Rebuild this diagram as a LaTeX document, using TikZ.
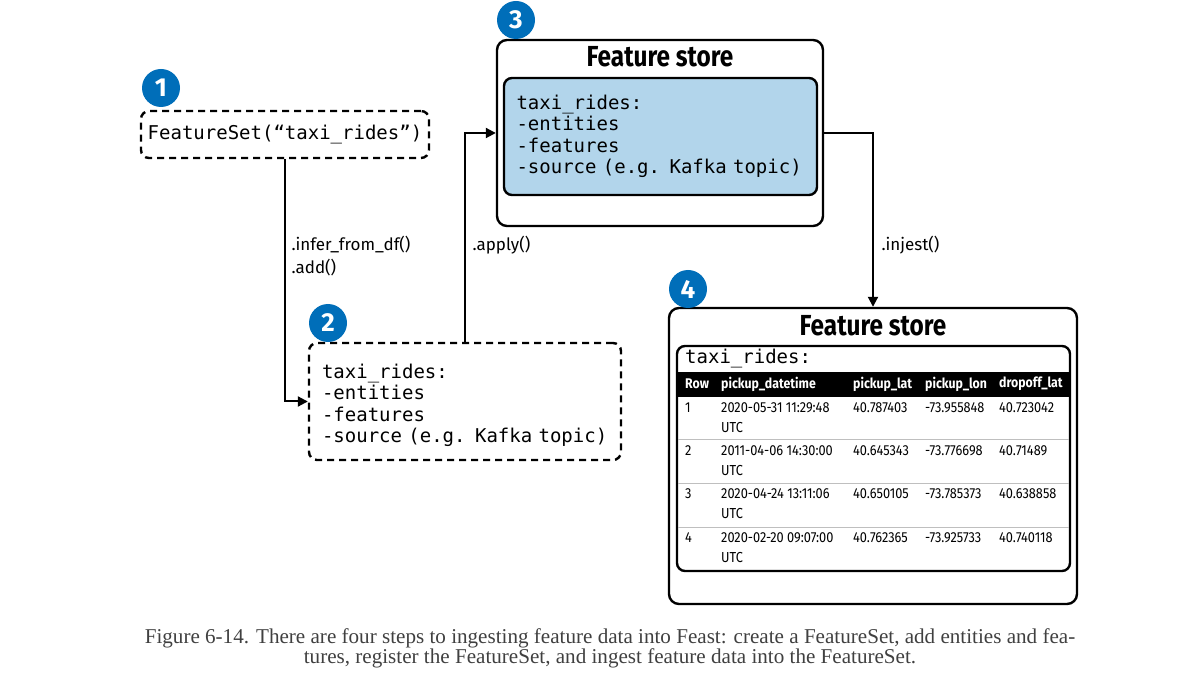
\documentclass[tikz,border=0pt]{standalone}
\usepackage{fontspec}
\setmonofont{DejaVu Sans Mono}
\setsansfont{Fira Sans}
\newfontfamily\condfont[FakeStretch=0.84]{Fira Sans}
\newfontfamily\cellfont[FakeStretch=0.88]{Fira Sans}
\newfontfamily\capfont{Liberation Serif}
\usetikzlibrary{positioning, arrows.meta}
\definecolor{badgeblue}{RGB}{0,110,185}
\definecolor{storeblue}{RGB}{178,213,235}
\definecolor{captiongray}{RGB}{64,64,64}
\tikzset{
    flow/.style={-{Triangle[length=10pt,width=10pt]}, line width=2pt}, % connectors between the steps
    dashbox/.style={draw, dash pattern=on 7pt off 5pt, line width=2.4pt, rounded corners=8pt}, % not yet registered
    storebox/.style={draw, line width=2.4pt, rounded corners=10pt}, % the feature store frame
    badge/.style={circle, fill=badgeblue, text=white, minimum size=38pt, inner sep=0pt, font=\sffamily\bfseries\fontsize{26}{26}\selectfont},
    code/.style={font=\ttfamily\fontsize{19}{21.5}\selectfont, align=left},
    method/.style={anchor=west, font=\sffamily\fontsize{17}{23}\selectfont, align=left},
    storetitle/.style={font=\condfont\bfseries\fontsize{29}{29}\selectfont},
    cell/.style={anchor=west, inner sep=0pt, font=\cellfont\fontsize{14.5}{14.5}\selectfont},
    headcell/.style={cell, text=white, font=\cellfont\bfseries\fontsize{14}{14}\selectfont},
}
\begin{document}
\begin{tikzpicture}[x=1pt, y=-1pt]
    \useasboundingbox (0,0) rectangle (1189,684);

    % step 1: create the feature set
    \node[dashbox, code, minimum width=288pt, minimum height=47pt] (fset) at (285,134.5) {FeatureSet(“taxi\_rides”)};

    % step 2: add entities and features
    \node[dashbox, minimum width=312pt, minimum height=117pt] (raw) at (465,401.5) {};
    \node[code, text width=286pt] (rawtext) at ([yshift=-4pt]raw.center)
        {taxi\_rides:\\-entities\\-features\\-source (e.g. Kafka topic)};

    % step 3: register in the feature store
    \node[storebox, minimum width=326pt, minimum height=186pt] (store1) at (660,133) {};
    \node[storetitle] (title1) at ([yshift=-18pt]store1.north) {Feature store};
    \node[draw, fill=storeblue, line width=2.4pt, rounded corners=8pt, code, minimum width=313pt, minimum height=117pt, text width=288pt] (fs1) at (660.5,136.5)
        {taxi\_rides:\\-entities\\-features\\-source (e.g. Kafka topic)};

    % step 4: ingested data
    \node[storebox, minimum width=408pt, minimum height=296pt] (store2) at (873,456) {};
    \node[storetitle] (title2) at ([yshift=-19pt]store2.north) {Feature store};
    \fill (677,372) rectangle (1070,397);
    \node[draw, line width=2.4pt, rounded corners=8pt, minimum width=393pt, minimum height=225pt] (table) at (873.5,458.5) {};
    \node[code, anchor=west, inner sep=0pt] (tname) at (685,359) {taxi\_rides:};
    \node[headcell] at (685,384) {Row};
    \node[headcell] at (721,384) {pickup\_datetime};
    \node[headcell] at (853,384) {pickup\_lat};
    \node[headcell] at (925,384) {pickup\_lon};
    \node[headcell] at (999,384) {dropoff\_lat};
    \foreach \r/\y/\dt/\plat/\plon/\dlat in {1/408/2020-05-31 11:29:48/40.787403/-73.955848/40.723042,
                                             2/451/2011-04-06 14:30:00/40.645343/-73.776698/40.71489,
                                             3/494/2020-04-24 13:11:06/40.650105/-73.785373/40.638858,
                                             4/538/2020-02-20 09:07:00/40.762365/-73.925733/40.740118} {
        \node[cell] at (685,\y) {\r};
        \node[cell] at (721,\y) {\dt};
        \node[cell] at (721,\y+20) {UTC};
        \node[cell] at (853,\y) {\plat};
        \node[cell] at (925,\y) {\plon};
        \node[cell] at (999,\y) {\dlat};
    }
    \foreach \y in {440,483,527}
        \draw[black!25, line width=1pt] (678,\y) -- (1069,\y);

    % connectors
    \draw[flow] (fset.south) |- (raw.west);
    \node[method] (m1) at (288,256.5) {.infer\_from\_df()\\.add()};
    \draw[flow] (raw.north) |- (store1.west);
    \node[method] (m2) at (469,245) {.apply()};
    \draw[flow] (store1.east) -| (store2.north);
    \node[method] (m3) at (878,245) {.injest()};

    % step numbers
    \node[badge] (b1) at (161,88) {1};
    \node[badge] (b2) at (328,323) {2};
    \node[badge] (b3) at (516,20) {3};
    \node[badge] (b4) at (688,289) {4};

    % caption
    \node[font=\capfont\fontsize{21.1}{20}\selectfont, text=captiongray, align=center] (caption) at (610,648)
        {Figure 6-14. There are four steps to ingesting feature data into Feast: create a FeatureSet, add entities and fea-\\tures, register the FeatureSet, and ingest feature data into the FeatureSet.};
\end{tikzpicture}
\end{document}
